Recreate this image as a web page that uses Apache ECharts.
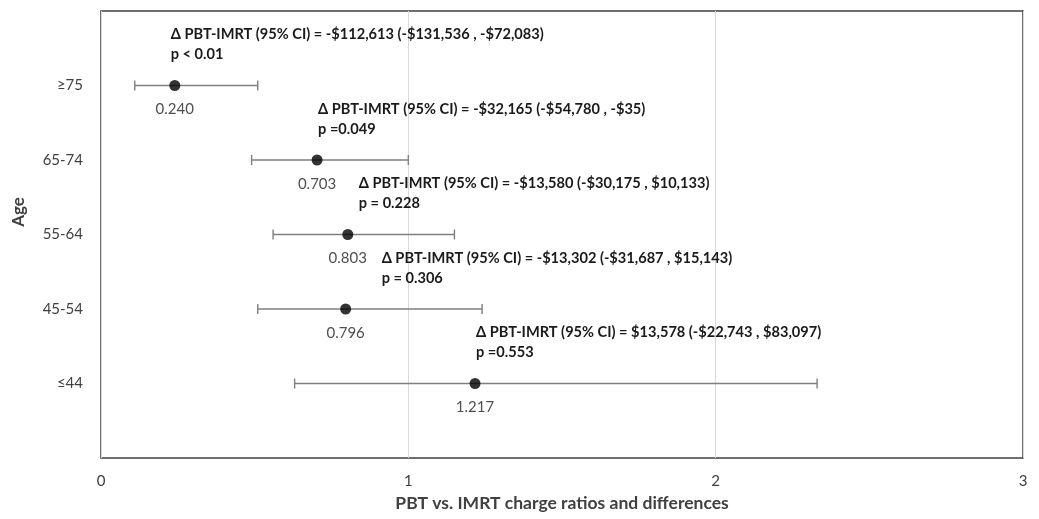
<!DOCTYPE html>
<html><head><meta charset="utf-8">
<script src="https://cdn.jsdelivr.net/npm/echarts@6/dist/echarts.min.js"></script>
<style>html,body{margin:0;padding:0;background:#fff}#c{width:1039px;height:519px}</style>
</head><body><div id="c"></div>
<script>
var categories = ['≥75', '65-74', '55-64', '45-54', '≤44'];
var ratio = [0.240, 0.703, 0.803, 0.796, 1.217];
var ciLow = [0.11, 0.49, 0.56, 0.51, 0.63];
var ciHigh = [0.51, 1.00, 1.15, 1.24, 2.33];
var deltaText = [
  'Δ PBT-IMRT (95% CI) = -$112,613 (-$131,536 , -$72,083)',
  'Δ PBT-IMRT (95% CI) = -$32,165 (-$54,780 , -$35)',
  'Δ PBT-IMRT (95% CI) = -$13,580 (-$30,175 , $10,133)',
  'Δ PBT-IMRT (95% CI) = -$13,302 (-$31,687 , $15,143)',
  'Δ PBT-IMRT (95% CI) = $13,578 (-$22,743 , $83,097)'
];
var pText = ['p < 0.01', 'p =0.049', 'p = 0.228', 'p = 0.306', 'p =0.553'];
var xTicks = [0, 1, 2, 3];
var annoShift = [-4, 1, 11, 36, 1];

var n = categories.length;
function yPos(i) { return n - i; }

var chart = echarts.init(document.getElementById('c'));
var font = 'Lato, "Open Sans", sans-serif';
chart.setOption({
  animation: false,
  grid: { left: 101, right: 16, top: 11, bottom: 61, show: true, borderColor: '#404040', borderWidth: 1.5,
          containLabel: false, outerBoundsMode: 'none' },
  graphic: [{
    type: 'text', x: 19, y: 212, rotation: Math.PI / 2,
    style: { text: 'Age', fill: '#404040', font: 'bold 17px ' + font, textAlign: 'center', textVerticalAlign: 'middle' }
  }],
  xAxis: {
    type: 'value', min: xTicks[0], max: xTicks[xTicks.length - 1], interval: 1,
    axisLine: { show: false }, axisTick: { show: false },
    splitLine: { show: true, lineStyle: { color: '#d9d9d9', width: 1 } },
    axisLabel: { color: '#404040', fontFamily: font, fontSize: 15, margin: 16 },
    name: 'PBT vs. IMRT charge ratios and differences', nameLocation: 'middle', nameGap: 36,
    nameTextStyle: { color: '#404040', fontFamily: font, fontSize: 17.5, fontWeight: 'bold' }
  },
  yAxis: {
    type: 'value', min: 0, max: n + 1, interval: 1,
    axisLine: { show: false }, axisTick: { show: false }, splitLine: { show: false },
    axisLabel: {
      color: '#404040', fontFamily: font, fontSize: 15, margin: 18,
      formatter: function (v) { var i = n - v; return (i >= 0 && i < n) ? categories[i] : ''; }
    }
  },
  series: [
    {
      type: 'custom',
      data: categories.map(function (c, i) { return [ciLow[i], ciHigh[i], yPos(i)]; }),
      renderItem: function (params, api) {
        var p1 = api.coord([api.value(0), api.value(2)]);
        var p2 = api.coord([api.value(1), api.value(2)]);
        var h = 5;
        var st = { stroke: '#7f7f7f', lineWidth: 1.4 };
        return { type: 'group', children: [
          { type: 'line', shape: { x1: p1[0], y1: p1[1], x2: p2[0], y2: p2[1] }, style: st },
          { type: 'line', shape: { x1: p1[0], y1: p1[1] - h, x2: p1[0], y2: p1[1] + h }, style: st },
          { type: 'line', shape: { x1: p2[0], y1: p2[1] - h, x2: p2[0], y2: p2[1] + h }, style: st }
        ]};
      },
      z: 2
    },
    {
      type: 'scatter',
      symbol: 'circle', symbolSize: 11,
      itemStyle: { color: '#000' },
      data: ratio.map(function (v, i) { return [v, yPos(i)]; }),
      label: {
        show: true, position: 'bottom', distance: 11,
        color: '#222', fontFamily: font, fontSize: 15,
        formatter: function (p) { return ratio[p.dataIndex].toFixed(3); }
      },
      z: 3
    },
    {
      type: 'custom',
      data: ratio.map(function (v, i) { return [v, yPos(i), i]; }),
      renderItem: function (params, api) {
        var i = api.value(2);
        var p = api.coord([api.value(0), api.value(1)]);
        var x = p[0] + annoShift[i];
        var st = { fill: '#1a1a1a', font: 'bold 14.6px ' + font, textAlign: 'left', textVerticalAlign: 'middle' };
        return { type: 'group', children: [
          { type: 'text', style: Object.assign({ text: deltaText[i], x: x, y: p[1] - 51 }, st) },
          { type: 'text', style: Object.assign({ text: pText[i], x: x, y: p[1] - 31 }, st) }
        ]};
      },
      z: 4
    }
  ]
});
</script></body></html>
